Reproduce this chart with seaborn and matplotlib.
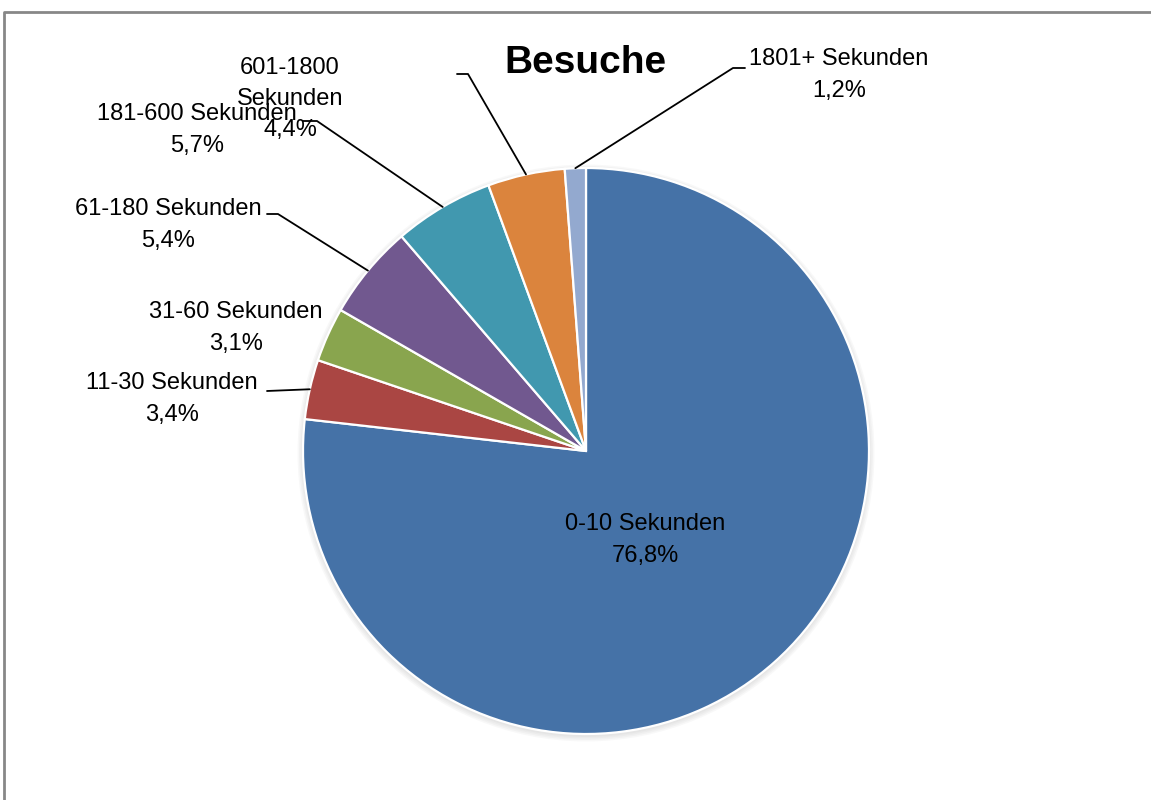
import numpy as np
import matplotlib
matplotlib.use("Agg")
import matplotlib.pyplot as plt
import seaborn as sns
from matplotlib.patches import Circle

# data
categories = ["0-10 Sekunden", "11-30 Sekunden", "31-60 Sekunden", "61-180 Sekunden",
              "181-600 Sekunden", "601-1800 Sekunden", "1801+ Sekunden"]
shares = [76.8, 3.4, 3.1, 5.4, 5.7, 4.4, 1.2]
title = "Besuche"

colors = sns.color_palette(["#4572A7", "#AA4643", "#89A54E", "#71588F",
                            "#4198AF", "#DB843D", "#93A9CF"])

W, H = 1151, 800


def px(x, y):
    # pixel position (from top-left) -> data coords
    return x, H - y


# layout: label centre and leader line points (pixels)
label_pos = [(645, 540), (172, 399), (236, 328), (168, 225), (197, 130), (290, 99), (839, 75)]
leaders = [None,
           [(267, 391)],
           None,
           [(267, 214), (278, 214)],
           [(303, 121), (317, 121)],
           [(457, 74), (468, 74)],
           [(745, 68), (733, 68)]]
center = (586, 451)
radius = 283

sns.set_theme(style="white")
plt.rcParams['font.family'] = ['Liberation Sans', 'DejaVu Sans']

fig = plt.figure(figsize=(W / 100, H / 100), dpi=100)
ax = fig.add_axes([0, 0, 1, 1])

cx, cy = px(*center)
# soft shadow under the pie
for i, a in enumerate([0.05, 0.05, 0.05, 0.05]):
    ax.add_patch(Circle((cx, cy - 2), radius + 1 + i * 1.5, color="gray", alpha=a, lw=0, zorder=0))

wedges, _ = ax.pie(shares, colors=colors, startangle=90, counterclock=False,
                   center=(cx, cy), radius=radius,
                   wedgeprops=dict(edgecolor="white", linewidth=1.6))
ax.set_xlim(0, W)
ax.set_ylim(0, H)
ax.set_aspect("equal")
ax.axis("off")

for i, (cat, v) in enumerate(zip(categories, shares)):
    name = cat.replace(" ", "\n") if cat.startswith("601") else cat
    txt = name + "\n" + f"{v:.1f}".replace(".", ",") + "%"
    tx, ty = px(*label_pos[i])
    ax.text(tx, ty, txt, ha="center", va="center", fontsize=17, color="black",
            linespacing=1.55, zorder=5)
    if leaders[i] is not None:
        w = wedges[i]
        mid = np.deg2rad((w.theta1 + w.theta2) / 2)
        ax_pt = (cx + radius * np.cos(mid), cy + radius * np.sin(mid))
        pts = [px(*p) for p in leaders[i]] + [ax_pt]
        ax.plot([p[0] for p in pts], [p[1] for p in pts], color="black", lw=1.3, zorder=4)

tx, ty = px(585, 63)
ax.text(tx, ty, title, ha="center", va="center", fontsize=28, fontweight="bold", color="black")

# chart frame (only top and left edges visible)
ax.plot([4, 4, W], [0, H - 12, H - 12], color="#878787", lw=2, clip_on=False)

fig.savefig("out.png", dpi=100, facecolor="white")
